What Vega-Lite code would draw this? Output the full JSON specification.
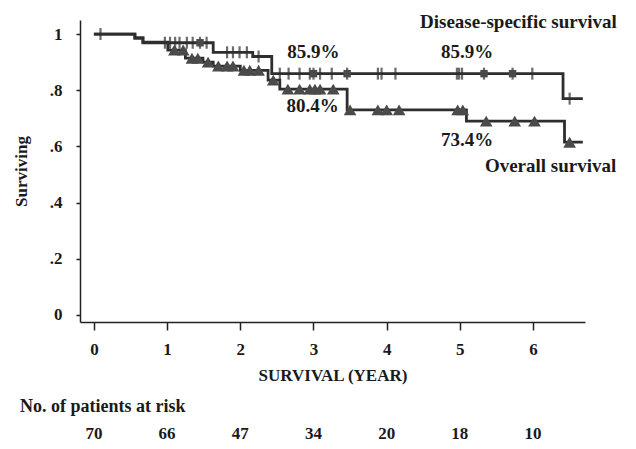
{
  "$schema": "https://vega.github.io/schema/vega-lite/v6.json",
  "padding": {"left": 12, "top": 12, "right": 5, "bottom": 0},
  "background": "white",
  "config": {
    "view": {"stroke": null},
    "font": "Liberation Serif",
    "axis": {"labelFont": "Liberation Serif", "titleFont": "Liberation Serif", "labelFontWeight": "bold", "titleFontWeight": "bold", "labelColor": "#1a1a1a", "titleColor": "#1a1a1a", "domainColor": "#222", "tickColor": "#222", "grid": false}
  },
  "datasets": {
    "curves": [
      {"series": "DSS", "t": 0, "s": 1.0},
      {"series": "DSS", "t": 0.56, "s": 0.986},
      {"series": "DSS", "t": 0.67, "s": 0.969},
      {"series": "DSS", "t": 1.63, "s": 0.935},
      {"series": "DSS", "t": 2.17, "s": 0.92},
      {"series": "DSS", "t": 2.43, "s": 0.859},
      {"series": "DSS", "t": 6.41, "s": 0.77},
      {"series": "DSS", "t": 6.68, "s": 0.77},
      {"series": "OS", "t": 0, "s": 1.0},
      {"series": "OS", "t": 0.56, "s": 0.986},
      {"series": "OS", "t": 0.67, "s": 0.971},
      {"series": "OS", "t": 1.01, "s": 0.943},
      {"series": "OS", "t": 1.25, "s": 0.914},
      {"series": "OS", "t": 1.49, "s": 0.9},
      {"series": "OS", "t": 1.63, "s": 0.886},
      {"series": "OS", "t": 2.0, "s": 0.871},
      {"series": "OS", "t": 2.38, "s": 0.836},
      {"series": "OS", "t": 2.54, "s": 0.804},
      {"series": "OS", "t": 3.46, "s": 0.73},
      {"series": "OS", "t": 5.09, "s": 0.69},
      {"series": "OS", "t": 6.43, "s": 0.615},
      {"series": "OS", "t": 6.68, "s": 0.615}
    ],
    "censorDSS": [
      {"t": 0.09, "s": 1.0},
      {"t": 0.97, "s": 0.969}, {"t": 1.04, "s": 0.969}, {"t": 1.11, "s": 0.969}, {"t": 1.17, "s": 0.969},
      {"t": 1.27, "s": 0.969}, {"t": 1.35, "s": 0.969}, {"t": 1.45, "s": 0.969}, {"t": 1.54, "s": 0.969},
      {"t": 1.82, "s": 0.935}, {"t": 1.9, "s": 0.935}, {"t": 1.99, "s": 0.935}, {"t": 2.09, "s": 0.935},
      {"t": 2.25, "s": 0.92},
      {"t": 2.54, "s": 0.859}, {"t": 2.66, "s": 0.859}, {"t": 2.81, "s": 0.859}, {"t": 2.95, "s": 0.859},
      {"t": 3.0, "s": 0.859}, {"t": 3.09, "s": 0.859}, {"t": 3.25, "s": 0.859}, {"t": 3.46, "s": 0.859},
      {"t": 3.88, "s": 0.859}, {"t": 3.93, "s": 0.859}, {"t": 4.12, "s": 0.859}, {"t": 4.96, "s": 0.859},
      {"t": 4.99, "s": 0.859}, {"t": 5.03, "s": 0.859}, {"t": 5.33, "s": 0.859}, {"t": 5.72, "s": 0.859},
      {"t": 5.99, "s": 0.859},
      {"t": 6.5, "s": 0.77}
    ],
    "censorDSSsq": [
      {"t": 1.45, "s": 0.969}, {"t": 3.0, "s": 0.859}, {"t": 3.46, "s": 0.859}, {"t": 5.33, "s": 0.859}, {"t": 5.72, "s": 0.859}
    ],
    "censorOS": [
      {"t": 1.1, "s": 0.943}, {"t": 1.22, "s": 0.943}, {"t": 1.34, "s": 0.914}, {"t": 1.42, "s": 0.914},
      {"t": 1.56, "s": 0.9}, {"t": 1.7, "s": 0.886}, {"t": 1.82, "s": 0.886}, {"t": 1.9, "s": 0.886},
      {"t": 2.05, "s": 0.871}, {"t": 2.13, "s": 0.871}, {"t": 2.25, "s": 0.871}, {"t": 2.45, "s": 0.836},
      {"t": 2.65, "s": 0.804}, {"t": 2.81, "s": 0.804}, {"t": 2.95, "s": 0.804}, {"t": 3.02, "s": 0.804},
      {"t": 3.09, "s": 0.804}, {"t": 3.27, "s": 0.804},
      {"t": 3.5, "s": 0.73}, {"t": 3.88, "s": 0.73}, {"t": 4.0, "s": 0.73}, {"t": 4.17, "s": 0.73},
      {"t": 4.97, "s": 0.73}, {"t": 5.04, "s": 0.73},
      {"t": 5.36, "s": 0.69}, {"t": 5.75, "s": 0.69}, {"t": 6.02, "s": 0.69},
      {"t": 6.5, "s": 0.615}
    ],
    "labels": [
      {"label": "85.9%", "t": 3.0, "s": 0.936},
      {"label": "85.9%", "t": 5.1, "s": 0.936},
      {"label": "80.4%", "t": 2.99, "s": 0.744},
      {"label": "73.4%", "t": 5.1, "s": 0.623},
      {"label": "Disease-specific survival", "t": 5.8, "s": 1.043},
      {"label": "Overall survival", "t": 6.24, "s": 0.53}
    ],
    "risk": [
      {"t": 0, "n": "70"}, {"t": 1, "n": "66"}, {"t": 2, "n": "47"}, {"t": 3, "n": "34"},
      {"t": 4, "n": "20"}, {"t": 5, "n": "18"}, {"t": 6, "n": "10"}
    ]
  },
  "vconcat": [
    {
      "width": 505,
      "height": 302,
      "layer": [
        {
          "data": {"name": "curves"},
          "mark": {"type": "line", "interpolate": "step-after", "color": "#2e2e2e", "strokeWidth": 2.8},
          "encoding": {
            "x": {"field": "t", "type": "quantitative", "scale": {"domain": [-0.19, 6.71], "nice": false, "zero": false},
              "axis": {"values": [0, 1, 2, 3, 4, 5, 6], "format": "d", "title": "SURVIVAL (YEAR)", "labelFontSize": 17, "titleFontSize": 17, "tickSize": 8, "labelPadding": 11, "titlePadding": 10, "domainWidth": 1.5, "tickWidth": 1.5}},
            "y": {"field": "s", "type": "quantitative", "scale": {"domain": [-0.025, 1.05], "nice": false, "zero": false},
              "axis": {"values": [0, 0.2, 0.4, 0.6, 0.8, 1], "title": "Surviving", "labelExpr": "datum.value == 0 ? '0' : datum.value == 1 ? '1' : replace(format(datum.value, '.1f'), '0.', '.')", "labelFontSize": 17, "titleFontSize": 17, "tickSize": 4, "labelPadding": 14, "titlePadding": 19, "domainWidth": 1.5, "tickWidth": 1.5}},
            "detail": {"field": "series"}
          }
        },
        {
          "data": {"name": "censorDSS"},
          "mark": {"type": "tick", "orient": "vertical", "color": "#2e2e2e", "size": 12, "thickness": 2.2},
          "encoding": {
            "x": {"field": "t", "type": "quantitative"},
            "y": {"field": "s", "type": "quantitative"}
          }
        },
        {
          "data": {"name": "censorDSSsq"},
          "mark": {"type": "point", "shape": "square", "filled": true, "color": "#4a4a4a", "opacity": 1, "size": 55},
          "encoding": {
            "x": {"field": "t", "type": "quantitative"},
            "y": {"field": "s", "type": "quantitative"}
          }
        },
        {
          "data": {"name": "censorOS"},
          "mark": {"type": "point", "shape": "triangle-up", "filled": true, "color": "#4a4a4a", "opacity": 1, "size": 160},
          "encoding": {
            "x": {"field": "t", "type": "quantitative"},
            "y": {"field": "s", "type": "quantitative"}
          }
        },
        {
          "data": {"name": "labels"},
          "mark": {"type": "text", "font": "Liberation Serif", "fontWeight": "bold", "fontSize": 19, "color": "#1a1a1a", "baseline": "middle", "align": "center"},
          "encoding": {
            "x": {"field": "t", "type": "quantitative"},
            "y": {"field": "s", "type": "quantitative"},
            "text": {"field": "label"}
          }
        }
      ]
    },
    {
      "width": 505,
      "height": 20,
      "title": {"text": "No. of patients at risk", "anchor": "start", "dx": -60, "font": "Liberation Serif", "fontWeight": "bold", "fontSize": 18, "color": "#1a1a1a", "offset": 8},
      "data": {"name": "risk"},
      "mark": {"type": "text", "font": "Liberation Serif", "fontWeight": "bold", "fontSize": 17, "color": "#1a1a1a", "baseline": "middle", "align": "center"},
      "encoding": {
        "x": {"field": "t", "type": "quantitative", "scale": {"domain": [-0.19, 6.71], "nice": false, "zero": false}, "axis": null},
        "text": {"field": "n"}
      }
    }
  ],
  "spacing": 15
}
